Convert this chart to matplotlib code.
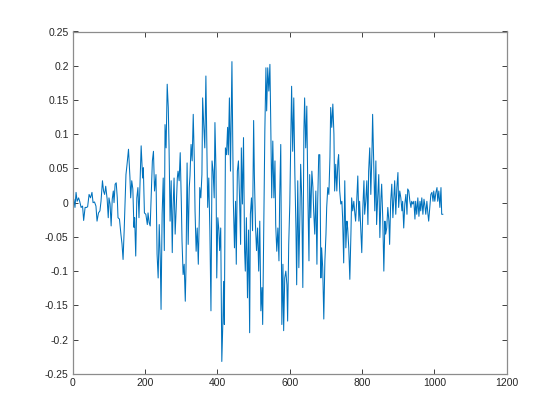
# waveform plot, matlab-like look
import matplotlib
matplotlib.use("Agg")
import matplotlib.pyplot as plt
from matplotlib.ticker import FuncFormatter

# sample positions and amplitudes
sample_index = [
    0, 3, 6, 9, 12, 16, 19, 23, 27, 30, 34, 38, 41, 45, 49, 53, 56, 60, 64, 67,
    71, 75, 78, 82, 85, 88, 91, 95, 98, 100, 103, 106, 109, 112, 114, 117, 120, 123, 125, 129,
    133, 136, 139, 142, 145, 147, 150, 154, 158, 160, 163, 166, 169, 171, 174, 177, 180,
    183, 189, 193, 195, 198, 202, 206, 208, 211, 214, 217, 220, 223, 226, 230, 233, 236, 239,
    242, 244, 247, 250, 253, 255, 258, 261, 264, 266, 269, 272, 275, 277, 280, 283, 286, 289,
    291, 294, 297, 300, 302, 305, 308, 311, 313, 316, 319, 322, 324, 327, 330, 333, 336, 338,
    341, 344, 347, 350,
    351, 354, 357, 359, 362, 365, 368, 370, 373, 376, 379, 382, 385, 388, 391, 393, 396, 398,
    401, 404, 406, 409, 412, 415, 417, 419, 422, 425, 428, 430, 433, 436, 440, 442, 444, 447,
    450, 452, 455, 458, 461, 464, 466, 469, 472, 475, 477, 480, 483, 486, 489, 491, 494, 497,
    500, 502, 505, 508, 511,
    514, 517, 520, 523, 525, 528, 531, 534, 536, 539, 542, 545, 547, 550, 553, 556, 559, 561,
    564, 567, 570, 572, 575, 578, 581, 583, 586, 589, 592, 594, 597, 600, 603, 605, 608, 611,
    614, 617, 619, 622, 625, 628, 630, 633, 636, 639, 641, 644, 647, 650, 653, 655, 658, 661,
    664, 666, 669, 672, 675, 677, 680,
    683, 686, 688, 691, 694, 697, 700, 702, 705, 708, 711, 713, 716, 719, 722, 724, 727, 730,
    733, 735, 738, 741, 744, 746, 749, 752, 755, 758, 760, 763, 766, 769, 771, 774, 777, 780,
    782, 785, 788, 791, 793, 796, 799, 802, 805, 807, 810, 813, 816, 818, 821, 824, 827, 829,
    832, 835, 838, 840, 843, 846,
    849, 852, 854, 857, 860, 863, 865, 868, 871, 874, 876, 879, 882, 885, 888, 890, 893, 896,
    899, 901, 904, 907, 910, 912, 915, 918, 921, 924, 926, 929, 932, 935, 937, 940, 943, 946,
    948, 951, 954, 957, 960, 962, 965, 968, 971, 973, 976, 979, 982, 984, 987, 990, 993, 996,
    998, 1001, 1004, 1007, 1009, 1012, 1015, 1018, 1020, 1023,
]

amplitude = [
    -0.005, 0.005, -0.007, 0.015, 0.002, 0.007, 0.002, -0.007, -0.005, -0.026, -0.007, -0.007, -0.006, 0.012, 0.007, 0.015, 0.0, 0.001, -0.005, -0.027,
    -0.015, -0.012, 0.002, 0.032, 0.017, 0.012, 0.024, 0.005, -0.022, 0.007, -0.002, -0.034, 0.005, 0.017, 0.0, 0.027, 0.029, 0.007, -0.022, -0.024,
    -0.046, -0.06, -0.083, -0.041, 0.007, 0.041, 0.056, 0.078, 0.037, 0.007, 0.032, 0.02, -0.036, -0.022, -0.078, 0.007, 0.022,
    -0.022, 0.083, 0.036, 0.051, -0.015, -0.017, -0.032, -0.015, -0.029, -0.034, 0.012, 0.061, 0.075, 0.017, 0.041, -0.075, -0.11, -0.032,
    -0.085, -0.156, -0.017, 0.036, -0.07, 0.114, 0.08, 0.173, 0.139, 0.085, -0.027, 0.032, -0.073, -0.012, 0.036, -0.046, -0.007, 0.036,
    0.046, 0.032, 0.073, 0.002, -0.056, -0.105, -0.09, -0.144, -0.095, 0.058, -0.061, 0.022, 0.039, 0.085, 0.061, 0.129, 0.061, -0.012,
    -0.071, -0.037, -0.09, -0.017,
    0.022, 0.007, 0.041, 0.153, 0.114, 0.08, 0.185, 0.105, -0.007, 0.036, -0.041, -0.158, 0.061, 0.046, 0.007, 0.117, 0.046, -0.11,
    -0.022, -0.041, -0.07, -0.037, -0.232, -0.173, -0.115, -0.178, 0.08, 0.07, 0.11, 0.07, 0.153, 0.046, 0.206, 0.105, 0.0, -0.066,
    0.002, -0.09, 0.046, 0.061, 0.007, -0.061, 0.08, -0.002, 0.095, -0.07, -0.1, -0.022, -0.139, -0.04, -0.19, -0.017, 0.007, -0.041,
    0.12, 0.041, -0.032, -0.07, -0.037,
    -0.1, -0.027, -0.158, -0.124, -0.178, -0.041, 0.105, 0.197, 0.134, 0.197, 0.163, 0.202, 0.129, 0.007, 0.09, 0.007, 0.061, -0.032,
    -0.071, -0.037, -0.085, 0.007, 0.085, -0.178, -0.09, -0.187, -0.11, -0.1, -0.12, -0.173, -0.061, -0.002, 0.105, 0.17, 0.075, 0.153,
    0.041, -0.037, -0.12, 0.032, -0.095, -0.017, 0.056, 0.007, -0.124, 0.105, 0.153, 0.08, 0.141, 0.007, -0.085, 0.041, -0.022, 0.046,
    0.022, -0.012, -0.046, 0.017, -0.09, -0.002, 0.07,
    0.07, -0.11, -0.066, -0.095, -0.17, -0.085, -0.046, -0.007, 0.022, 0.012, 0.066, 0.139, 0.11, 0.144, 0.1, 0.017, 0.056, 0.017,
    0.061, 0.07, 0.017, -0.002, 0.002, -0.022, -0.088, 0.032, -0.066, -0.027, -0.037, -0.066, -0.112, -0.046, 0.007, -0.012, 0.002, -0.017,
    -0.027, 0.002, 0.039, -0.027, 0.002, -0.037, -0.073, -0.007, 0.032, -0.017, 0.002, 0.032, -0.032, 0.046, 0.08, 0.012, 0.07, 0.129,
    0.061, -0.012, 0.061, -0.032, 0.007, 0.041,
    -0.051, 0.007, 0.027, -0.022, -0.1, -0.027, -0.046, -0.037, -0.007, -0.027, -0.061, 0.002, 0.027, -0.022, 0.012, 0.032, -0.017, 0.022,
    0.044, -0.007, 0.017, 0.007, -0.012, 0.002, -0.037, -0.002, 0.012, -0.017, 0.02, 0.017, 0.002, -0.007, 0.002, -0.002, 0.002, -0.024,
    0.002, -0.017, 0.007, -0.02, 0.002, -0.012, 0.007, -0.017, 0.005, -0.002, -0.017, 0.002, -0.017, -0.027, -0.007, 0.012, 0.015, 0.002,
    0.017, 0.002, 0.015, 0.022, 0.002, 0.017, -0.007, 0.022, -0.017, -0.017,
]

x_ticks = [0, 200, 400, 600, 800, 1000, 1200]
y_ticks = [-0.25, -0.2, -0.15, -0.1, -0.05, 0, 0.05, 0.1, 0.15, 0.2, 0.25]

plt.rcParams['font.family'] = ['Liberation Sans', 'DejaVu Sans']
plt.rcParams['axes.unicode_minus'] = False

fig = plt.figure(figsize=(5.6, 4.2), dpi=100)
ax = fig.add_axes([0.13, 0.11, 0.775, 0.815])

ax.plot(sample_index, amplitude, color='#0072BD', linewidth=0.75)

ax.set_xlim(0, 1200)
ax.set_ylim(-0.25, 0.25)
ax.set_xticks(x_ticks)
ax.set_yticks(y_ticks)
ax.yaxis.set_major_formatter(FuncFormatter(lambda v, p: '%g' % round(v, 3)))

for side in ax.spines.values():
    side.set_color('#8c8c8c')
    side.set_linewidth(0.9)
ax.tick_params(direction='in', top=True, right=True, length=3.5, width=0.7,
               color='#404040', labelsize=7.5, labelcolor='#262626', pad=3)

fig.savefig('out.png', dpi=100)
